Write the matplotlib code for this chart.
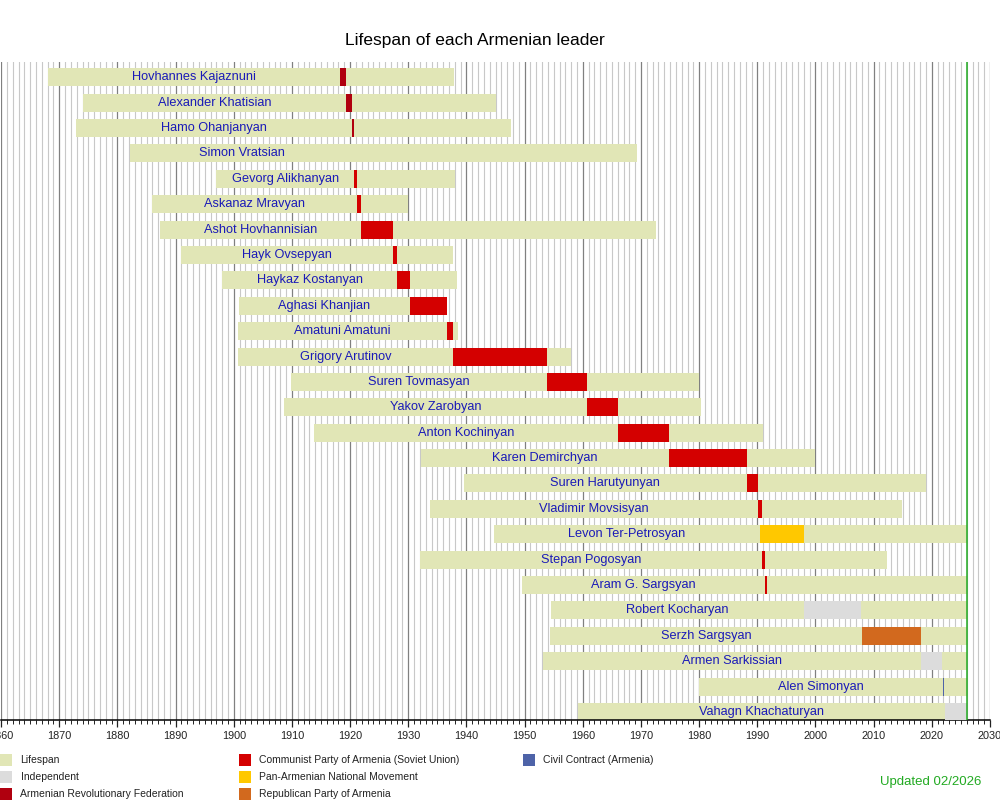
import numpy as np
import matplotlib.pyplot as plt
from matplotlib.patches import Rectangle

plt.rcParams['font.family'] = ['Liberation Sans', 'DejaVu Sans']

# Données
names = ["Hovhannes Kajaznuni", "Alexander Khatisian", "Hamo Ohanjanyan", "Simon Vratsian",
         "Gevorg Alikhanyan", "Askanaz Mravyan", "Ashot Hovhannisian", "Hayk Ovsepyan",
         "Haykaz Kostanyan", "Aghasi Khanjian", "Amatuni Amatuni", "Grigory Arutinov",
         "Suren Tovmasyan", "Yakov Zarobyan", "Anton Kochinyan", "Karen Demirchyan",
         "Suren Harutyunyan", "Vladimir Movsisyan", "Levon Ter-Petrosyan", "Stepan Pogosyan",
         "Aram G. Sargsyan", "Robert Kocharyan", "Serzh Sargsyan", "Armen Sarkissian",
         "Alen Simonyan", "Vahagn Khachaturyan"]
today = 2026.0
born = [1868.0, 1874.0, 1872.9, 1882.1, 1896.9, 1885.9, 1887.3, 1891.0, 1898.0, 1900.9,
        1900.7, 1900.7, 1909.8, 1908.6, 1913.8, 1932.1, 1939.5, 1933.7, 1944.8, 1932.0,
        1949.5, 1954.5, 1954.3, 1953.2, 1980.0, 1959.1]
died = [1937.9, 1945.0, 1947.6, 1969.4, 1938.0, 1930.0, 1972.5, 1937.6, 1938.3, 1936.6,
        1938.6, 1958.0, 1980.0, 1980.3, 1991.0, 1999.9, 2019.0, 2014.9, today, 2012.3,
        today, today, today, today, today, today]
term_start = [1918.25, 1919.3, 1920.3, 1920.7, 1920.75, 1921.2, 1921.9, 1927.3, 1928.1, 1930.3,
              1936.6, 1937.7, 1953.8, 1960.8, 1966.0, 1974.8, 1988.2, 1990.1, 1990.4, 1990.8,
              1991.3, 1998.0, 2008.0, 2018.1, 2021.85, 2022.2]
term_end = [1919.3, 1920.3, 1920.75, 1920.7, 1921.1, 1921.9, 1927.3, 1928.1, 1930.3, 1936.6,
            1937.7, 1953.8, 1960.8, 1966.0, 1974.8, 1988.2, 1990.1, 1990.8, 1998.0, 1991.4,
            1991.6, 2007.8, 2018.1, 2021.8, 2022.05, today]
party = ["ARF", "ARF", "ARF", "ARF", "CP", "CP", "CP", "CP", "CP", "CP",
         "CP", "CP", "CP", "CP", "CP", "CP", "CP", "CP", "PANM", "CP",
         "CP", "IND", "RPA", "IND", "CC", "IND"]

legend_keys = ["LIFE", "IND", "ARF", "CP", "PANM", "RPA", "CC"]
legend_labels = ["Lifespan", "Independent", "Armenian Revolutionary Federation",
                 "Communist Party of Armenia (Soviet Union)", "Pan-Armenian National Movement",
                 "Republican Party of Armenia", "Civil Contract (Armenia)"]
colors = {"LIFE": "#e1e6b6", "IND": "#dcdcdc", "ARF": "#b0000f", "CP": "#d40000",
          "PANM": "#ffc800", "RPA": "#d2691e", "CC": "#4e63a8"}

fig = plt.figure(figsize=(10, 8), dpi=100)
ax = fig.add_axes([0.0011, 0.1005, 0.9889, 0.822])

y = np.arange(len(names))
born_a = np.array(born)
died_a = np.array(died)
ts = np.array(term_start)
te = np.array(term_end)

ax.barh(y, died_a - born_a, left=born_a, height=0.71, color=colors["LIFE"], zorder=2)
ax.barh(y, te - ts, left=ts, height=0.71, color=[colors[p] for p in party],
        linewidth=0, zorder=3)

# étiquette centrée entre naissance et début du mandat
for i, n in enumerate(names):
    ax.text((born[i] + term_start[i]) / 2, i, n, ha="center", va="center",
            fontsize=9.2, color="#1a1ab8", zorder=4)

ax.axvline(today, color="#22aa22", lw=1.1, zorder=5)

ax.set_xlim(1860, 2030)
ax.set_ylim(25.3, -0.6)
ax.set_xticks(np.arange(1860, 2031, 10))
ax.set_xticks(np.arange(1860, 2031, 1), minor=True)
ax.set_yticks([])
ax.grid(True, which="major", axis="x", color="#808080", lw=0.9, zorder=0)
ax.grid(True, which="minor", axis="x", color="#c8c8c8", lw=0.8, zorder=0)
ax.set_axisbelow(True)
for s in ["top", "right", "left"]:
    ax.spines[s].set_visible(False)
ax.spines["bottom"].set_linewidth(1.1)
ax.tick_params(axis="x", which="major", length=5, width=0.9, labelsize=7.8, pad=3, colors="#222222")
ax.tick_params(axis="x", which="minor", length=3, width=0.7, colors="#222222")

fig.text(0.475, 0.95, "Lifespan of each Armenian leader", ha="center", va="center", fontsize=12.5)

# Légende
col_x = [0.0, 0.2385, 0.5227]
row_y = [0.05, 0.0284, 0.0071]
for k, (key, lab) in enumerate(zip(legend_keys, legend_labels)):
    cx = col_x[k // 3]
    cy = row_y[k % 3]
    fig.add_artist(Rectangle((cx, cy - 0.0075), 0.012, 0.015, transform=fig.transFigure,
                             color=colors[key], lw=0))
    fig.text(cx + 0.0205, cy, lab, ha="left", va="center", fontsize=7.5, color="#222222")

fig.text(0.981, 0.0229, "Updated 02/2026", ha="right", va="center", fontsize=9.5, color="#22aa22")

fig.savefig("out.png", dpi=100)
